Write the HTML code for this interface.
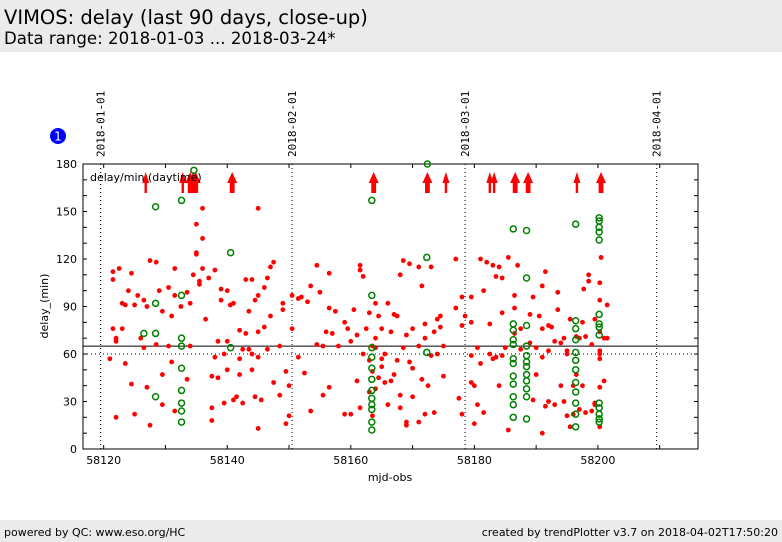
<!DOCTYPE html>
<html><head><meta charset="utf-8">
<style>
body{margin:0;width:782px;height:542px;background:#fff;font-family:"DejaVu Sans","Liberation Sans",sans-serif;overflow:hidden;position:relative}
#hdr{position:absolute;left:0;top:0;width:782px;height:52px;background:#ebebeb}
#t1{position:absolute;left:4px;top:6px;font-size:19.5px;color:#000}
#t2{position:absolute;left:4px;top:29px;font-size:16.6px;color:#000}
#ftr{position:absolute;left:0;top:520px;width:782px;height:22px;background:#ebebeb;font-size:11px}
#fl{position:absolute;left:4px;top:6px}
#fr{position:absolute;right:4px;top:6px}
svg{position:absolute;left:0;top:0}
</style></head><body>
<div id="hdr">
<div id="t1">VIMOS: delay (last 90 days, close-up)</div>
<div id="t2">Data range: 2018-01-03 ... 2018-03-24*</div>
</div>
<div id="ftr">
<span id="fl">powered by QC: www.eso.org/HC</span>
<span id="fr">created by trendPlotter v3.7 on 2018-04-02T17:50:20</span>
</div>
<svg id="chart" width="782" height="542"></svg>
<script>
const xTicks=[58120,58140,58160,58180,58200];
const yTicks=[0,30,60,90,120,150,180];
const dateLabels=["2018-01-01","2018-02-01","2018-03-01","2018-04-01"];
const dateMjd=[58119.5,58150.5,58178.5,58209.5];
const refLine=65;
const lowLine=60;
const redMjd=[58121.5,58121.5,58121.5,58122,58122,58121,58122,58122.5,58123,58123,58123.5,58123.5,58124,58124.5,58124.5,58125,58125,58125.5,58126,58126.5,58126.5,58127,58127,58127.5,58127.5,58128.5,58128.5,58129,58129.5,58129.5,58129.5,58130.5,58130.5,58131,58131,58131.5,58131.5,58131.5,58132.5,
58133.5,58133.5,58134,58134,58134.5,58135,58135,58135,58135.5,58135.5,58136,58136,58136,58136.5,58137,58137.5,58137.5,58137.5,58138,58138,58138.5,58138.5,58139,58139,58139.5,58139.5,58140,58140,58140,58140.5,58141,58141,58141.5,58142,58142,58142,58142.5,58142.5,58143,58143,58143.5,58143.5,58144,58144,58144,58144.5,58144.5,58145,58145,58145,58145,58145,58145.5,58146,58146,58146.5,58146.5,58147,58147,58147.5,58147.5,
58148.5,58148.5,58149,58149,58149.5,58149.5,58150,58150,58150.5,58150.5,58151.5,58151.5,58152,58152.5,58153,58153.5,58153.5,58154.5,58154.5,58155,58155.5,58155.5,58156,58156.5,58156.5,58156.5,58157,58157.5,58158,
58159,58159,58159.5,58160,58160,58160.5,58161,58161,58161.5,58161.5,58161.5,58162,58162,58162.5,58163,58163,58163,58163.5,58163.5,58163.5,58164,58164,58164,58164,58164.5,58164.5,58165,58165,58165,58165.5,58165.5,58166,58166,58166.5,58166.5,58167,58167,58167.5,58167.5,58168,58168,58168,58168.5,58168.5,58169,58169,58169,58169.5,58169.5,58170,58170,58170,58171,58171,58171,58171.5,58171.5,58172,58172,58172,58172.5,58173,58173,58173.5,58173.5,58174,58174,58174.5,58174.5,58175,58175,
58177,58177,58177.5,58178,58178,58178,58178.5,
58179.5,58179.5,58179.5,58179.5,58180,58180,58180.5,58180.5,58181,58181,58181.5,58181.5,58182,58182.5,58182.5,58183,58183,58183.5,58183.5,58184,58184,58184.5,58184.5,58184.5,58185,58185.5,58185.5,58186.5,58186.5,58186.5,58187,58187.5,58187.5,
58189,58189,58189.5,58189.5,58190,58190,58190.5,58191,58191,58191,58191,58191.5,58191.5,58192,58192,58192,58192.5,58193,58193,58193.5,58193.5,58194,58194,58194.5,58194.5,58195,58195,58195,58195.5,58195.5,58196,58196,58196.5,58196.5,58197,58197,58197.5,58197.5,58198,58198,58198.5,58199,58199,58197.7,58198.5,
58199.5,58199.5,58199.5,58200.5,58200.3,58200.3,58200.3,58200.3,58200.3,58200.3,58200.3,58200.3,58201,58201,58201.5,58201.5];
const redDelay=[76,112,107,68,70,57,20,114,92,76,91,54,100,111,41,22,91,97,70,94,64,90,39,119,15,118,66,100,87,28,47,102,65,84,55,97,114,24,90,
99,44,92,65,110,142,124,123,106,104,133,152,114,82,108,46,26,18,58,113,68,45,94,101,60,29,68,50,100,91,31,92,33,75,57,47,63,29,73,107,87,63,107,60,50,94,33,152,97,74,58,13,31,102,77,108,63,115,84,118,42,
65,34,92,88,49,16,21,40,76,97,95,58,96,48,93,24,103,116,66,99,65,34,74,89,111,39,73,87,65,
80,22,76,68,22,88,72,43,116,113,26,109,60,76,86,56,36,49,65,21,92,70,38,64,45,84,76,57,52,60,42,92,28,74,43,85,47,84,56,110,26,34,119,64,72,17,15,117,55,76,51,33,115,65,17,103,44,70,79,22,40,115,59,74,23,82,60,84,77,46,65,
120,89,32,96,78,22,84,
96,80,59,42,16,40,64,28,120,54,100,23,118,79,60,116,57,109,58,115,40,108,86,59,64,121,12,97,89,73,116,76,63,
85,67,96,31,64,47,84,103,76,58,10,112,27,62,30,78,77,68,28,99,88,67,40,70,30,62,60,21,82,14,40,22,71,47,70,25,80,40,71,23,110,66,24,101,106,
82,29,28,121,105,94,74,62,60,57,39,14,70,43,91,70];
const greenMjd=[58126.5,58128.4,58128.4,58128.4,58128.4,58132.6,58132.6,58132.6,58132.6,58132.6,58132.6,58132.6,58132.6,58132.6,58134.6,58140.55,58140.55,
58163.4,58163.4,58163.4,58163.4,58163.4,58163.4,58163.4,58163.4,58163.4,58163.4,58163.4,58163.4,58172.3,58172.3,58172.4,
58186.3,58186.3,58186.3,58186.3,58186.3,58186.3,58186.3,58186.3,58186.3,58186.3,58186.3,58186.3,
58188.45,58188.45,58188.45,58188.45,58188.45,58188.45,58188.45,58188.45,58188.45,58188.45,58188.45,58188.45,
58196.4,58196.4,58196.4,58196.4,58196.4,58196.4,58196.4,58196.4,58196.4,58196.4,58196.4,58196.4,
58200.2,58200.2,58200.2,58200.2,58200.2,58200.2,58200.2,58200.2,58200.2,58200.2,58200.2,58200.2,58200.2,58200.2];
const greenDelay=[73,153,92,73,33,157,97,70,65,51,37,29,24,17,176,124,64,
157,97,64,58,51,44,37,32,28,25,17,12,121,61,180,
139,79,75,69,66,57,54,46,41,33,28,20,
138,108,78,65,59,55,52,47,43,38,33,19,
142,81,76,69,61,56,50,42,36,29,22,14,
146,144,140,137,132,85,79,77,72,29,26,22,19,17];
const arrowMjd=[58126.8,58132.8,58134,58134.5,58134.9,58140.8,58163.7,58172.4,58175.4,58182.5,58183.2,58186.6,58188.7,58196.6,58200.5];
const arrowWide=[0,0,1,1,1,1,1,1,0,0,0,1,1,0,1];

const L=83,R=698,T=164,B=449,XMIN=58116.65,XMAX=58216.2,YMIN=0,YMAX=180;
const sx=v=>L+(v-XMIN)/(XMAX-XMIN)*(R-L);
const sy=v=>B-(v-YMIN)/(YMAX-YMIN)*(B-T);
const svg=document.getElementById('chart');
const NS='http://www.w3.org/2000/svg';
function mk(tag,attrs,parent){const e=document.createElementNS(NS,tag);for(const k in attrs)e.setAttribute(k,attrs[k]);(parent||svg).appendChild(e);return e;}

let fr=mk('rect',{x:L,y:T,width:R-L,height:B-T,fill:'#fff',stroke:'#000','stroke-width':1});



dateMjd.forEach((m,i)=>{
  const x=sx(m);
  const l=mk('line',{x1:x,x2:x,y1:T,y2:B,stroke:'#000','stroke-dasharray':'1,3','stroke-width':1});
  
  
  const t=mk('text',{x:0,y:0,transform:`translate(${x+4},157) rotate(-90)`,'font-size':11,'font-family':'"DejaVu Sans Mono","Liberation Mono",monospace'});
  t.textContent=dateLabels[i];
  
  
});
let h1=mk('line',{x1:L,x2:R,y1:sy(lowLine),y2:sy(lowLine),stroke:'#000','stroke-dasharray':'1,3'});


let h2=mk('line',{x1:L,x2:R,y1:sy(refLine),y2:sy(refLine),stroke:'#000','stroke-width':1});



for(let v=YMIN;v<=YMAX;v+=10){
  const y=sy(v);
  mk('line',{x1:L,x2:L+4,y1:y,y2:y,stroke:'#000'});
  mk('line',{x1:R,x2:R-4,y1:y,y2:y,stroke:'#000'});
}
yTicks.forEach(v=>{
  const t=mk('text',{x:L-6,y:sy(v)+4,'text-anchor':'end','font-size':11});
  t.textContent=v;
  
  
});
for(let v=58120;v<=58210;v+=10){
  const x=sx(v);
  mk('line',{x1:x,x2:x,y1:B,y2:B-4,stroke:'#000'});
  mk('line',{x1:x,x2:x,y1:T,y2:T+4,stroke:'#000'});
}
xTicks.forEach(v=>{
  const t=mk('text',{x:sx(v),y:B+15,'text-anchor':'middle','font-size':11});
  t.textContent=v;
  
  
});
let xt=mk('text',{x:390,y:481,'text-anchor':'middle','font-size':11});
xt.textContent='mjd-obs';


let yt=mk('text',{x:0,y:0,transform:'translate(48,306) rotate(-90)','text-anchor':'middle','font-size':11});
yt.textContent='delay_(min)';



redMjd.forEach((m,i)=>{
  const c=mk('circle',{cx:sx(m),cy:sy(redDelay[i]),r:2.4,fill:'#ff0000'});
  
  
});
arrowMjd.forEach((m,i)=>{
  const x=sx(m),w=arrowWide[i]?2.4:1.2,hw=arrowWide[i]?5:3.5;
  const g=mk('g',{fill:'#ff0000'});
  
  
  mk('rect',{x:x-w,y:180,width:2*w,height:13},g);
  mk('polygon',{points:`${x-hw},183 ${x+hw},183 ${x},172`},g);
});
greenMjd.forEach((m,i)=>{
  const c=mk('circle',{cx:sx(m),cy:sy(greenDelay[i]),r:3,fill:'none',stroke:'#008000','stroke-width':1.5});
  
  
});
let lg=mk('text',{x:90,y:181,'font-size':11});
lg.textContent='delay/min (daytime)';



let bg=mk('g',{});


mk('circle',{cx:58,cy:136,r:8,fill:'#0000ff'},bg);
let bt=mk('text',{x:58,y:140.5,'text-anchor':'middle','font-size':12,fill:'#fff'},bg);
bt.textContent='1';
</script>
</body></html>
